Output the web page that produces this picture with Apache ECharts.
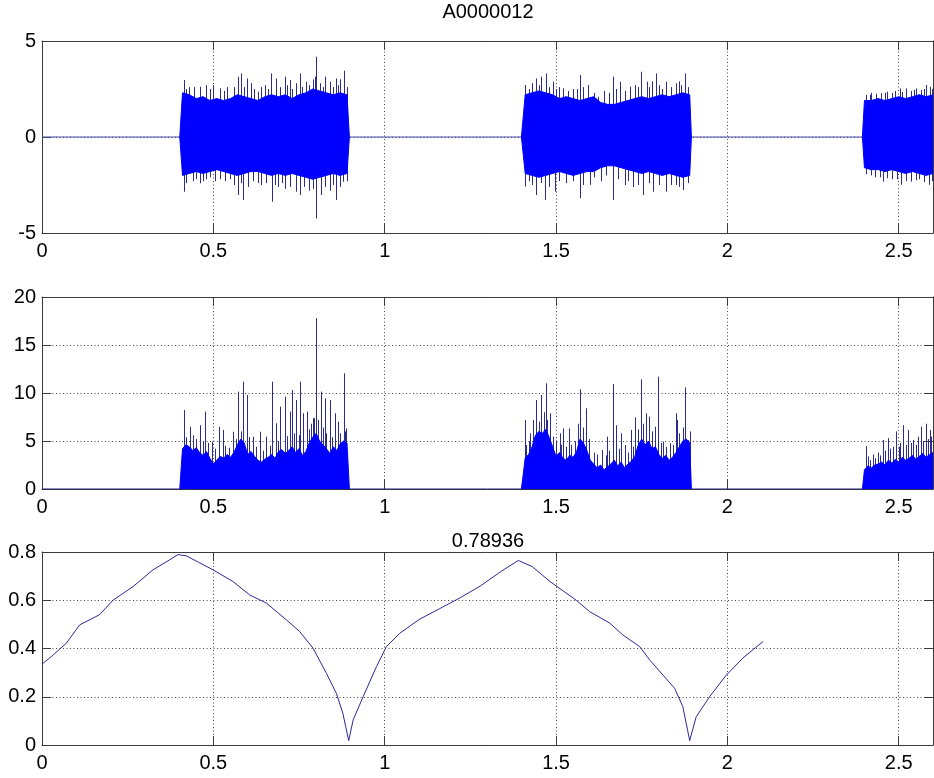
<!DOCTYPE html>
<html>
<head>
<meta charset="utf-8">
<script src="https://cdn.jsdelivr.net/npm/echarts/dist/echarts.min.js"></script>
<style>
  html, body { margin: 0; padding: 0; background: #ffffff; }
  #chart { width: 934px; height: 778px; }
</style>
</head>
<body>
<div id="chart"></div>
<script>
// ---- recording A0000012: three tone bursts, time in seconds ----
const timeMax = 2.6;
const burstStart = [0.402, 1.399, 2.394];
const burstEnd = [0.897, 1.895, null];   // third burst runs past the end of the window
const envFirst = [0.41, 1.41, 2.40];      // time of first envelope sample in each burst

// waveform: dense body envelope (upper / lower), sampled every 0.02 s
const waveStep = 0.02;
const waveUpper1 = [2.3, 2.2, 2.0, 2.1, 1.9, 2.0, 1.9, 2.0, 2.2, 2.1, 2.0, 1.9, 2.1, 2.2, 2.1, 2.2, 2.0, 2.2, 2.3, 2.5, 2.4, 2.3, 2.2, 2.3, 2.2];
const waveLower1 = [-2.0, -1.9, -1.8, -1.9, -1.8, -1.7, -1.8, -1.9, -2.0, -1.9, -1.8, -1.8, -1.9, -2.0, -1.9, -2.0, -1.9, -2.0, -2.1, -2.2, -2.1, -2.0, -1.9, -2.0, -1.9];
const waveUpper2 = [2.2, 2.3, 2.4, 2.3, 2.2, 2.0, 2.1, 2.0, 1.9, 2.0, 2.1, 1.8, 1.7, 1.7, 1.8, 1.9, 2.0, 2.1, 2.0, 2.1, 2.2, 2.1, 2.2, 2.3, 2.2];
const waveLower2 = [-1.9, -2.0, -2.1, -2.0, -1.9, -1.8, -1.9, -2.0, -1.9, -1.8, -1.8, -1.6, -1.5, -1.5, -1.6, -1.7, -1.8, -1.9, -1.8, -1.9, -2.0, -1.9, -2.0, -2.1, -2.0];
const waveUpper3 = [1.9, 1.9, 2.0, 1.9, 2.0, 2.1, 2.0, 2.1, 2.2, 2.1, 2.2];
const waveLower3 = [-1.6, -1.7, -1.7, -1.8, -1.7, -1.8, -1.9, -1.8, -1.9, -2.0, -1.9];

// waveform: isolated peaks above / below the body [time, amplitude]
const wavePeaksUp = [
  [0.4135, 2.97], [0.42, 2.5], [0.43, 2.6], [0.445, 2.6], [0.46, 2.62], [0.478, 2.70], [0.49, 2.5], [0.50, 2.7], [0.518, 2.53],
  [0.53, 2.4], [0.54, 2.6], [0.56, 2.6], [0.572, 3.14], [0.582, 3.31], [0.59, 2.6], [0.598, 3.05], [0.61, 2.8], [0.62, 2.5],
  [0.630, 2.36], [0.64, 2.6], [0.65, 2.7], [0.66, 2.5], [0.669, 3.31], [0.684, 3.05], [0.695, 2.6], [0.708, 3.14], [0.715, 2.7],
  [0.723, 2.97], [0.73, 2.5], [0.74, 2.8], [0.752, 3.31], [0.76, 2.6], [0.771, 2.88], [0.78, 2.7], [0.79, 3.0], [0.798, 3.14],
  [0.800, 4.18], [0.81, 2.8], [0.82, 2.6], [0.825, 3.14], [0.839, 2.88], [0.85, 2.6], [0.859, 3.05], [0.865, 2.7], [0.87, 3.0],
  [0.881, 3.45], [0.89, 2.6],
  [1.4085, 2.71], [1.42, 2.5], [1.43, 2.8], [1.4426, 3.05], [1.45, 2.7], [1.457, 3.14], [1.4698, 3.31], [1.48, 2.6], [1.491, 2.88],
  [1.50, 2.5], [1.51, 2.6], [1.520, 2.53], [1.535, 2.4], [1.55, 2.5], [1.56, 2.5], [1.571, 3.23], [1.58, 2.6], [1.594, 2.71],
  [1.61, 2.3], [1.623, 2.10], [1.64, 2.4], [1.655, 2.3], [1.666, 3.14], [1.675, 2.5], [1.686, 2.88], [1.70, 2.4], [1.715, 2.62],
  [1.73, 2.7], [1.74, 2.6], [1.749, 3.40], [1.764, 2.88], [1.77, 2.6], [1.78, 2.9], [1.793, 3.31], [1.80, 2.7], [1.81, 2.5],
  [1.822, 2.88], [1.835, 2.6], [1.849, 2.80], [1.86, 2.9], [1.865, 2.7], [1.875, 3.31], [1.885, 2.6],
  [2.4057, 2.19], [2.415, 2.2], [2.42, 2.3], [2.435, 2.25], [2.449, 2.28], [2.46, 2.3], [2.467, 2.36], [2.48, 2.3], [2.49, 2.4],
  [2.503, 2.53], [2.51, 2.35], [2.522, 2.53], [2.535, 2.4], [2.545, 2.45], [2.55, 2.53], [2.565, 2.45], [2.575, 2.5],
  [2.580, 2.71], [2.59, 2.62], [2.597, 2.5]
];
const wavePeaksDown = [
  [0.4135, -2.85], [0.42, -2.4], [0.44, -2.3], [0.45, -2.2], [0.46, -2.41], [0.47, -2.3], [0.48, -2.2], [0.49, -2.1], [0.505, -2.3],
  [0.52, -2.2], [0.535, -2.3], [0.55, -2.2], [0.56, -2.5], [0.572, -3.02], [0.58, -2.4], [0.587, -3.28], [0.60, -2.6], [0.615, -2.3],
  [0.63, -2.4], [0.64, -2.5], [0.655, -2.4], [0.672, -3.37], [0.68, -2.5], [0.69, -2.6], [0.70, -2.4], [0.71, -2.7], [0.725, -2.6],
  [0.74, -2.85], [0.752, -3.02], [0.765, -2.6], [0.78, -2.8], [0.79, -2.7], [0.800, -4.24], [0.815, -3.02], [0.825, -2.6],
  [0.84, -2.8], [0.85, -2.5], [0.859, -3.28], [0.87, -2.6], [0.879, -2.33], [0.89, -2.3],
  [1.4085, -2.58], [1.42, -2.3], [1.43, -2.5], [1.4426, -3.02], [1.455, -2.4], [1.467, -3.28], [1.48, -2.6], [1.496, -2.85],
  [1.51, -2.3], [1.53, -2.4], [1.55, -2.3], [1.569, -3.19], [1.58, -2.5], [1.598, -2.49], [1.61, -2.1], [1.63, -2.3],
  [1.645, -2.0], [1.666, -3.28], [1.68, -2.2], [1.70, -2.5], [1.71, -2.3], [1.724, -2.6], [1.74, -2.5], [1.754, -3.02],
  [1.77, -2.4], [1.783, -2.85], [1.80, -2.5], [1.822, -2.85], [1.835, -2.5], [1.85, -2.5], [1.86, -2.6], [1.871, -2.76], [1.885, -2.4],
  [2.4057, -1.94], [2.42, -2.0], [2.43, -2.1], [2.445, -2.1], [2.454, -2.33], [2.465, -2.15], [2.48, -2.2], [2.495, -2.2],
  [2.508, -2.49], [2.52, -2.3], [2.537, -2.33], [2.55, -2.25], [2.56, -2.2], [2.575, -2.35], [2.588, -2.49], [2.598, -2.3]
];

// energy: body level sampled every 0.01 s
const energyStep = 0.01;
const energyBody1 = [4.2, 4.6, 4.4, 4.0, 4.3, 3.8, 3.5, 3.9, 3.2, 2.6, 3.0, 3.4, 3.2, 3.6, 3.3, 3.8, 4.6, 5.2, 4.8, 3.6,
  3.9, 3.4, 3.0, 2.8, 3.1, 3.3, 3.6, 3.2, 3.9, 4.1, 3.7, 4.0, 4.4, 3.8, 4.2, 3.5, 3.9, 4.8, 5.4, 5.8,
  5.0, 4.6, 4.2, 3.7, 4.4, 4.0, 4.7, 5.0, 4.8];
const energyBody2 = [3.2, 3.6, 4.4, 5.6, 6.0, 5.8, 6.2, 5.4, 4.4, 3.4, 3.8, 3.2, 3.0, 3.5, 3.3, 3.9, 5.2, 4.8, 4.0, 3.0,
  2.6, 2.2, 2.5, 2.0, 2.3, 2.6, 3.0, 2.4, 2.8, 2.2, 2.6, 2.9, 3.4, 4.6, 5.2, 4.6, 5.0, 4.2, 4.4, 3.6,
  3.2, 3.5, 3.0, 3.3, 3.8, 4.4, 5.0, 5.2, 4.8];
const energyBody3 = [2.0, 2.4, 2.2, 2.5, 2.6, 2.8, 2.5, 3.0, 2.7, 3.1, 2.8, 3.3, 3.0, 3.2, 3.5, 3.1, 3.4, 3.7, 3.3, 3.6, 3.8];

// energy: isolated peaks [time, value]
const energyPeaks = [
  [0.4135, 8.23], [0.42, 5.4], [0.431, 6.48], [0.44, 5.6], [0.45, 5.2], [0.460, 6.65], [0.47, 5.0], [0.477, 8.06], [0.485, 4.8],
  [0.497, 4.93], [0.505, 4.2], [0.5166, 6.48], [0.528, 6.15], [0.535, 4.5], [0.545, 4.3], [0.5574, 5.97], [0.565, 5.2],
  [0.572, 10.14], [0.58, 6.0], [0.5866, 11.18], [0.5983, 9.79], [0.605, 5.4], [0.616, 5.45], [0.625, 4.4], [0.636, 5.97],
  [0.645, 4.0], [0.655, 5.45], [0.665, 4.5], [0.6722, 11.18], [0.684, 6.84], [0.69, 5.0], [0.6955, 8.58], [0.7081, 9.62],
  [0.715, 5.5], [0.723, 8.06], [0.7305, 10.31], [0.735, 5.8], [0.741, 9.27], [0.75, 5.6], [0.7539, 11.18], [0.762, 7.89],
  [0.773, 8.06], [0.78, 6.2], [0.785, 6.8], [0.791, 7.36], [0.795, 7.4], [0.800, 17.8], [0.805, 7.2], [0.8152, 10.14],
  [0.82, 6.4], [0.825, 9.44], [0.83, 5.8], [0.839, 9.27], [0.845, 5.4], [0.854, 7.89], [0.864, 7.01], [0.87, 5.8],
  [0.8803, 12.05], [0.885, 6.0], [0.888, 6.31],
  [1.4085, 7.19], [1.4134, 4.58], [1.42, 5.0], [1.425, 5.8], [1.4329, 7.19], [1.4406, 9.27], [1.45, 7.0], [1.457, 9.79],
  [1.465, 8.0], [1.4698, 11.01], [1.475, 7.2], [1.4814, 7.89], [1.4912, 5.45], [1.50, 5.0], [1.5106, 5.80], [1.515, 4.6],
  [1.5203, 6.31], [1.53, 4.4], [1.5378, 6.31], [1.545, 4.6], [1.555, 5.0], [1.565, 6.8], [1.5709, 10.38], [1.58, 6.4],
  [1.5865, 8.41], [1.595, 5.2], [1.61, 3.8], [1.62, 3.6], [1.6352, 4.06], [1.645, 3.5], [1.6488, 5.45], [1.655, 4.0],
  [1.6663, 10.94], [1.6761, 6.65], [1.685, 4.2], [1.6907, 5.80], [1.7004, 4.58], [1.71, 3.8], [1.7198, 6.15], [1.725, 4.4],
  [1.7305, 7.47], [1.74, 6.2], [1.749, 11.42], [1.755, 6.8], [1.7617, 7.89], [1.7714, 7.54], [1.78, 6.0], [1.788, 6.48],
  [1.79, 5.6], [1.7977, 11.70], [1.805, 4.8], [1.8123, 4.93], [1.82, 4.4], [1.8317, 4.76], [1.84, 4.6], [1.8493, 7.89],
  [1.8541, 7.19], [1.86, 5.8], [1.87, 6.4], [1.8755, 10.59], [1.8853, 5.1], [1.89, 6.0],
  [2.4036, 4.46], [2.41, 3.4], [2.4152, 3.0], [2.425, 3.6], [2.4298, 3.2], [2.44, 3.8], [2.4444, 3.5], [2.4541, 5.1],
  [2.46, 4.0], [2.4687, 5.3], [2.475, 4.2], [2.4833, 4.4], [2.491, 6.0], [2.50, 4.4], [2.5027, 4.8], [2.5124, 6.65],
  [2.52, 4.6], [2.527, 6.15], [2.535, 4.8], [2.5416, 5.1], [2.55, 4.6], [2.5562, 5.45], [2.5659, 6.5], [2.57, 5.0],
  [2.5785, 6.8], [2.585, 5.2], [2.5902, 6.15], [2.595, 5.45]
];

// correlation curve
const corrTime = [0, 0.03, 0.071, 0.11, 0.168, 0.207, 0.266, 0.324, 0.373, 0.397, 0.421, 0.46, 0.499, 0.557, 0.606, 0.655,
  0.713, 0.752, 0.791, 0.830, 0.859, 0.878, 0.895, 0.908, 0.937, 0.976, 1.005, 1.044, 1.10, 1.16, 1.22, 1.28, 1.34, 1.39,
  1.43, 1.482, 1.559, 1.598, 1.657, 1.695, 1.744, 1.773, 1.812, 1.846, 1.870, 1.890, 1.909, 1.948, 1.997, 2.045, 2.104];
const corrValue = [0.335, 0.37, 0.422, 0.498, 0.54, 0.60, 0.657, 0.726, 0.768, 0.78936, 0.784, 0.755, 0.726, 0.678, 0.622, 0.588,
  0.519, 0.47, 0.401, 0.297, 0.214, 0.131, 0.018, 0.104, 0.2, 0.325, 0.408, 0.463, 0.52, 0.565, 0.61, 0.66, 0.72, 0.765,
  0.74, 0.678, 0.60, 0.553, 0.505, 0.456, 0.408, 0.353, 0.29, 0.235, 0.159, 0.018, 0.117, 0.20, 0.29, 0.36, 0.429];

const xTicks = [0, 0.5, 1, 1.5, 2, 2.5];

// ---- styling ----
const FONT = 'Liberation Sans, Arial, Helvetica, sans-serif';
const AXIS_COLOR = '#3a3a3a';
const FILL_BLUE = '#0000ff';
const PEAK_BLUE = '#2c2c8e';
const TRACE_BLUE = '#4b4ba6';
const LABEL_SIZE = 20;

const gridBoxes = [
  { left: 42, right: 1, top: 41, height: 192 },
  { left: 42, right: 1, top: 297, height: 192 },
  { left: 42, right: 1, top: 552, height: 193 }
];
const yRanges = [
  { min: -5, max: 5, interval: 5 },
  { min: 0, max: 20, interval: 5 },
  { min: 0, max: 0.8, interval: 0.2 }
];

const dotted = { color: '#444444', width: 1, type: [1, 2.5] };

function xLabel(v) {
  return xTicks.some(t => Math.abs(t - v) < 1e-9) ? String(v) : '';
}

const xAxes = [];
const yAxes = [];
gridBoxes.forEach((g, i) => {
  xAxes.push({
    type: 'value', gridIndex: i, min: 0, max: timeMax, interval: 0.5, position: 'bottom',
    axisLine: { show: true, onZero: false, lineStyle: { color: AXIS_COLOR, width: 1 } },
    axisTick: { show: true, inside: true, length: 9, lineStyle: { color: AXIS_COLOR } },
    axisLabel: { show: true, margin: 8, color: '#000', fontSize: LABEL_SIZE, fontFamily: FONT, formatter: xLabel,
                 showMinLabel: true, showMaxLabel: true, hideOverlap: false },
    splitLine: { show: true, lineStyle: dotted }
  });
  yAxes.push({
    type: 'value', gridIndex: i, min: yRanges[i].min, max: yRanges[i].max, interval: yRanges[i].interval, position: 'left',
    axisLine: { show: true, onZero: false, lineStyle: { color: AXIS_COLOR, width: 1 } },
    axisTick: { show: true, inside: true, length: 9, lineStyle: { color: AXIS_COLOR } },
    axisLabel: { show: true, margin: 6, color: '#000', fontSize: LABEL_SIZE, fontFamily: FONT, hideOverlap: false },
    splitLine: { show: true, lineStyle: dotted }
  });
});
// mirrored top / right axes that carry only tick marks (box style)
gridBoxes.forEach((g, i) => {
  xAxes.push({
    type: 'value', gridIndex: i, min: 0, max: timeMax, interval: 0.5, position: 'top',
    axisLine: { show: true, onZero: false, lineStyle: { color: AXIS_COLOR, width: 1 } },
    axisTick: { show: true, inside: true, length: 9, lineStyle: { color: AXIS_COLOR } },
    axisLabel: { show: false }, splitLine: { show: false }
  });
  yAxes.push({
    type: 'value', gridIndex: i, min: yRanges[i].min, max: yRanges[i].max, interval: yRanges[i].interval, position: 'right',
    axisLine: { show: true, onZero: false, lineStyle: { color: AXIS_COLOR, width: 1 } },
    axisTick: { show: true, inside: true, length: 9, lineStyle: { color: AXIS_COLOR } },
    axisLabel: { show: false }, splitLine: { show: false }
  });
});

// ---- series builders ----
function envelope(burst, step, values) {
  const pts = [[burstStart[burst], 0]];
  values.forEach((v, k) => pts.push([+(envFirst[burst] + k * step).toFixed(4), v]));
  if (burstEnd[burst] !== null) pts.push([burstEnd[burst], 0]);
  return pts;
}

function bodySeries(grid, data) {
  return {
    type: 'line', xAxisIndex: grid, yAxisIndex: grid, data: data,
    symbol: 'none', showSymbol: false, smooth: false, animation: false, z: 4,
    lineStyle: { color: FILL_BLUE, width: 1 },
    areaStyle: { color: FILL_BLUE, opacity: 1 }
  };
}

function peakSeries(grid, data) {
  return {
    type: 'custom', xAxisIndex: grid, yAxisIndex: grid, data: data, animation: false, z: 3, clip: true,
    renderItem: function (params, api) {
      const p0 = api.coord([api.value(0), 0]);
      const p1 = api.coord([api.value(0), api.value(1)]);
      const x = Math.round(p0[0]) + 0.5;
      return {
        type: 'line',
        shape: { x1: x, y1: p0[1], x2: x, y2: p1[1] },
        style: { stroke: PEAK_BLUE, lineWidth: 1 }
      };
    }
  };
}

function baseline(grid, color) {
  return {
    type: 'line', xAxisIndex: grid, yAxisIndex: grid, data: [[0, 0], [timeMax, 0]],
    symbol: 'none', animation: false, z: 2, lineStyle: { color: color, width: 1 }
  };
}

const series = [
  baseline(0, TRACE_BLUE),
  peakSeries(0, wavePeaksUp),
  peakSeries(0, wavePeaksDown),
  bodySeries(0, envelope(0, waveStep, waveUpper1)),
  bodySeries(0, envelope(0, waveStep, waveLower1)),
  bodySeries(0, envelope(1, waveStep, waveUpper2)),
  bodySeries(0, envelope(1, waveStep, waveLower2)),
  bodySeries(0, envelope(2, waveStep, waveUpper3)),
  bodySeries(0, envelope(2, waveStep, waveLower3)),

  baseline(1, '#1c1c8a'),
  peakSeries(1, energyPeaks),
  bodySeries(1, envelope(0, energyStep, energyBody1)),
  bodySeries(1, envelope(1, energyStep, energyBody2)),
  bodySeries(1, envelope(2, energyStep, energyBody3)),

  {
    type: 'line', xAxisIndex: 2, yAxisIndex: 2,
    data: corrTime.map((t, i) => [t, corrValue[i]]),
    symbol: 'none', animation: false, z: 4,
    lineStyle: { color: '#2a2a96', width: 1 }
  }
];

const peakCorr = Math.max(...corrValue);

const chart = echarts.init(document.getElementById('chart'), null, { renderer: 'canvas' });
chart.setOption({
  animation: false,
  backgroundColor: '#ffffff',
  title: [
    { text: 'A0000012', left: 488, top: 2, padding: 0, textAlign: 'center',
      textStyle: { color: '#000', fontSize: LABEL_SIZE, fontWeight: 'normal', fontFamily: FONT } },
    { text: String(peakCorr), left: 488, top: 531, padding: 0, textAlign: 'center',
      textStyle: { color: '#000', fontSize: LABEL_SIZE, fontWeight: 'normal', fontFamily: FONT } }
  ],
  grid: gridBoxes.map(g => Object.assign({ show: false, containLabel: false, outerBoundsMode: 'none' }, g)),
  xAxis: xAxes,
  yAxis: yAxes,
  series: series
});
</script>
</body>
</html>
